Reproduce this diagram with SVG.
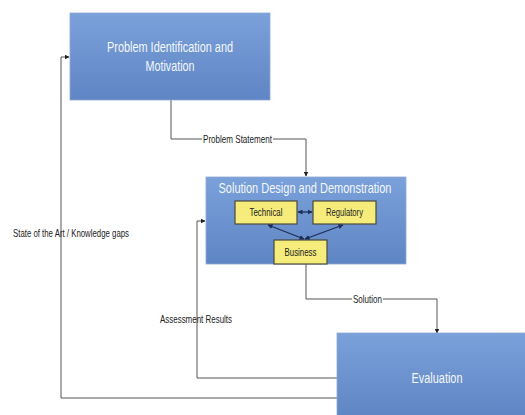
<svg xmlns="http://www.w3.org/2000/svg" width="525" height="415" viewBox="0 0 525 415">
  <defs>
    <linearGradient id="boxFill" x1="0" y1="0" x2="0" y2="1">
      <stop offset="0" stop-color="#7aa1da"/>
      <stop offset="1" stop-color="#5f86c4"/>
    </linearGradient>
    <marker id="arr" viewBox="0 0 10 10" refX="9" refY="5" markerWidth="5" markerHeight="5" orient="auto-start-reverse" markerUnits="userSpaceOnUse">
      <path d="M0,0 L10,5 L0,10 z" fill="#222"/>
    </marker>
    <marker id="arrNavy" viewBox="0 0 10 10" refX="9" refY="5" markerWidth="5" markerHeight="5" orient="auto-start-reverse" markerUnits="userSpaceOnUse">
      <path d="M0,0 L10,5 L0,10 z" fill="#1e2d55"/>
    </marker>
  </defs>
  <style>
    .box { fill: url(#boxFill); stroke: #8fa9cf; stroke-width: 0.8; }
    .sub { fill: #f5ec7c; stroke: #4a4a3a; stroke-width: 1.2; }
    .title { font-family: "Liberation Sans", Arial, sans-serif; fill: #f4f7fc; text-anchor: middle; }
    .subtext { font-family: "Liberation Sans", Arial, sans-serif; font-size: 10.5px; fill: #222; text-anchor: middle; }
    .label { font-family: "Liberation Sans", Arial, sans-serif; font-size: 10.5px; fill: #222; }
    .conn { fill: none; stroke: #555; stroke-width: 1; }
    .inner { fill: none; stroke: #1e2d55; stroke-width: 1.3; }
    .bg { fill: #ffffff; }
  </style>

  <rect width="525" height="415" fill="#ffffff"/>

  <!-- connectors -->
  <g id="connectors">
    <!-- problem statement -->
    <path class="conn" d="M171,100 V139 H306 V176" marker-end="url(#arr)"/>
    <!-- solution -->
    <path class="conn" d="M306,264 V299 H437 V333" marker-end="url(#arr)"/>
    <!-- assessment results -->
    <path class="conn" d="M337,378 H197 V221 H205" marker-end="url(#arr)"/>
    <!-- state of the art / knowledge gaps -->
    <path class="conn" d="M337,398 H61 V57 H69" marker-end="url(#arr)"/>

    <rect class="bg" x="202" y="133" width="71" height="11"/>
    <text class="label" x="203" y="143" textLength="69" lengthAdjust="spacingAndGlyphs">Problem Statement</text>
    <rect class="bg" x="352" y="293" width="31" height="11"/>
    <text class="label" x="353" y="303" textLength="29" lengthAdjust="spacingAndGlyphs">Solution</text>
    <text class="label" x="160" y="323" textLength="72" lengthAdjust="spacingAndGlyphs">Assessment Results</text>
    <text class="label" x="13" y="237" textLength="116" lengthAdjust="spacingAndGlyphs">State of the Art / Knowledge gaps</text>
  </g>

  <!-- problem identification -->
  <g id="problem">
    <rect class="box" x="70" y="13" width="200" height="87"/>
    <text class="title" x="170" y="52" font-size="15.5" textLength="126" lengthAdjust="spacingAndGlyphs">Problem Identification and</text>
    <text class="title" x="170" y="71" font-size="15.5" textLength="49" lengthAdjust="spacingAndGlyphs">Motivation</text>
  </g>

  <!-- solution design -->
  <g id="solution">
    <rect class="box" x="206" y="177" width="200" height="87"/>
    <text class="title" x="305" y="193" font-size="15" textLength="173" lengthAdjust="spacingAndGlyphs">Solution Design and Demonstration</text>
  </g>

  <g id="technical">
    <rect class="sub" x="235" y="201" width="62" height="23"/>
    <text class="subtext" x="266" y="216" textLength="33" lengthAdjust="spacingAndGlyphs">Technical</text>
  </g>
  <g id="regulatory">
    <rect class="sub" x="313" y="201" width="63" height="23"/>
    <text class="subtext" x="344.5" y="216" textLength="37" lengthAdjust="spacingAndGlyphs">Regulatory</text>
  </g>
  <g id="business">
    <rect class="sub" x="274" y="240" width="53" height="24"/>
    <text class="subtext" x="300.5" y="255.5" textLength="32" lengthAdjust="spacingAndGlyphs">Business</text>
  </g>

  <g id="inner-links">
    <path class="inner" d="M298,212 H312" marker-start="url(#arrNavy)" marker-end="url(#arrNavy)"/>
    <path class="inner" d="M304,239 L268,225" marker-start="url(#arrNavy)" marker-end="url(#arrNavy)"/>
    <path class="inner" d="M305,239 L343,225" marker-start="url(#arrNavy)" marker-end="url(#arrNavy)"/>
  </g>

  <!-- evaluation -->
  <g id="evaluation">
    <rect class="box" x="337" y="333" width="190" height="84"/>
    <text class="title" x="437" y="383" font-size="15.5" textLength="51" lengthAdjust="spacingAndGlyphs">Evaluation</text>
  </g>
</svg>
